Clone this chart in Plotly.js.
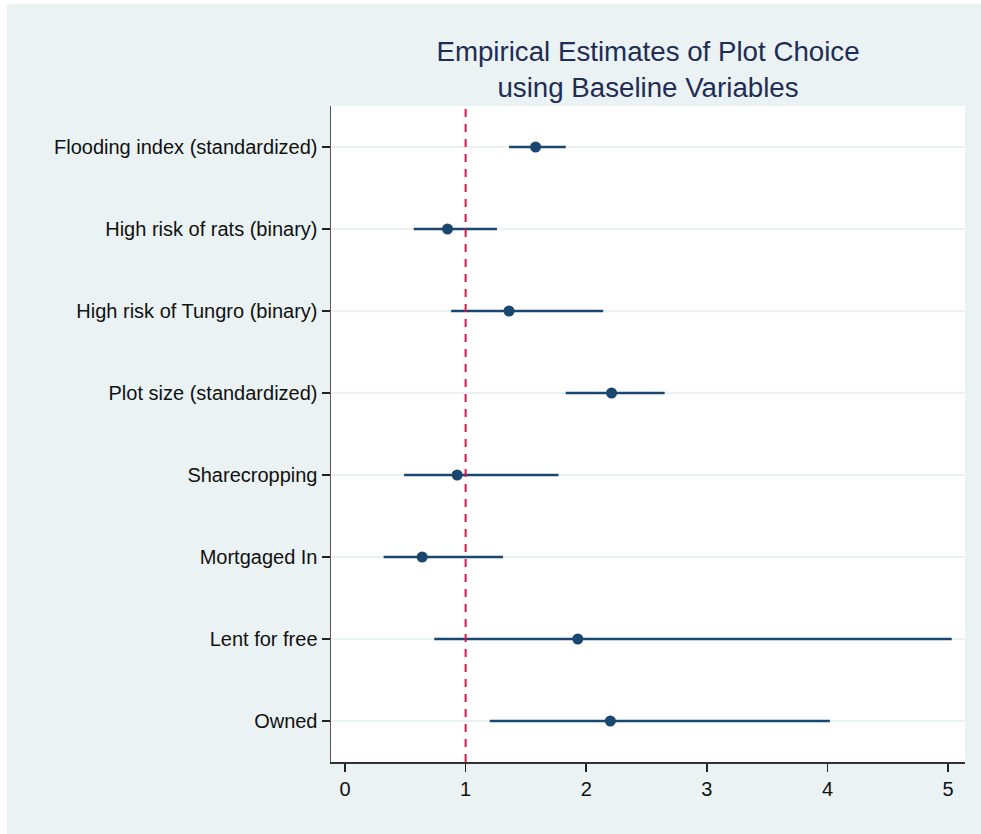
<!DOCTYPE html>
<html>
<head>
<meta charset="utf-8">
<script src="https://cdn.plot.ly/plotly-3.0.1.min.js"></script>
<style>
  html, body { margin: 0; padding: 0; background: #ffffff; }
  #chart { position: absolute; left: 7px; top: 4px; width: 974px; height: 830px; }
</style>
</head>
<body>
<div id="chart"></div>
<script>
// Data
const variables = [
  "Flooding index (standardized)",
  "High risk of rats (binary)",
  "High risk of Tungro (binary)",
  "Plot size (standardized)",
  "Sharecropping",
  "Mortgaged In",
  "Lent for free",
  "Owned"
];
const estimate = [1.58, 0.85, 1.36, 2.21, 0.93, 0.64, 1.93, 2.20];
const ciLow    = [1.36, 0.57, 0.88, 1.83, 0.49, 0.32, 0.74, 1.20];
const ciHigh   = [1.83, 1.26, 2.14, 2.65, 1.77, 1.31, 5.03, 4.02];
const xTicks = [0, 1, 2, 3, 4, 5];
const refValue = 1;

const navy = "#1a476f";
const font = "'Liberation Sans', Arial, sans-serif";

const trace = {
  type: "scatter",
  mode: "markers",
  x: estimate,
  y: variables,
  marker: { color: navy, size: 11, line: { width: 0 } },
  error_x: {
    type: "data",
    symmetric: false,
    array: estimate.map((v, i) => ciHigh[i] - v),
    arrayminus: estimate.map((v, i) => v - ciLow[i]),
    color: navy,
    thickness: 2.5,
    width: 0
  },
  hoverinfo: "x+y",
  showlegend: false
};

const layout = {
  width: 974,
  height: 830,
  paper_bgcolor: "#eaf2f3",
  plot_bgcolor: "#ffffff",
  margin: { l: 324, r: 16, t: 102, b: 72 },
  title: {
    text: "Empirical Estimates of Plot Choice<br>using Baseline Variables",
    font: { family: font, size: 27.7, color: "#1f2d55" },
    x: 0.5, xref: "paper", xanchor: "center",
    y: 1 - 57 / 830, yref: "container", yanchor: "top"
  },
  xaxis: {
    range: [-0.116, 5.14],
    tickvals: xTicks,
    ticktext: xTicks.map(String),
    ticks: "outside",
    ticklen: 8,
    tickwidth: 1.5,
    tickcolor: "#222",
    showline: true,
    linecolor: "#333",
    linewidth: 1.5,
    showgrid: false,
    zeroline: false,
    tickfont: { family: font, size: 20, color: "#111" },
    fixedrange: true
  },
  yaxis: {
    type: "category",
    categoryorder: "array",
    categoryarray: variables,
    range: [7.5, -0.5],
    ticks: "outside",
    ticklen: 8,
    tickwidth: 1.5,
    tickcolor: "#222",
    showline: true,
    linecolor: "#555",
    linewidth: 1.5,
    showgrid: true,
    gridcolor: "#eaf2f3",
    gridwidth: 2,
    zeroline: false,
    tickfont: { family: font, size: 20, color: "#111" },
    fixedrange: true
  },
  shapes: [{
    type: "line",
    xref: "x", yref: "paper",
    x0: refValue, x1: refValue, y0: 0, y1: 1,
    line: { color: "#d31a45", width: 2, dash: "8px,7px" },
    layer: "above"
  }]
};

Plotly.newPlot("chart", [trace], layout, { displayModeBar: false, staticPlot: true });
</script>
</body>
</html>
